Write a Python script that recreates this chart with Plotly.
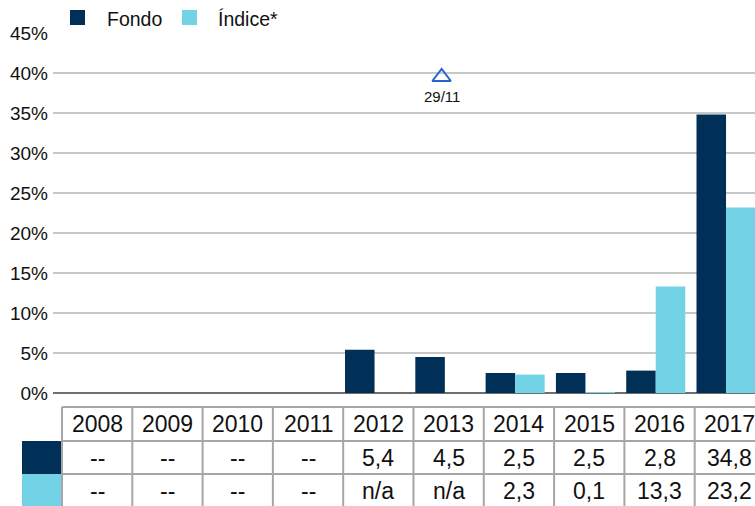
import plotly.graph_objects as go

# ---------------- data ----------------
years = ["2008", "2009", "2010", "2011", "2012", "2013", "2014", "2015", "2016", "2017"]
fondo = [None, None, None, None, 5.4, 4.5, 2.5, 2.5, 2.8, 34.8]
indice = [None, None, None, None, None, None, 2.3, 0.1, 13.3, 23.2]
fondo_labels = ["--", "--", "--", "--", "5,4", "4,5", "2,5", "2,5", "2,8", "34,8"]
indice_labels = ["--", "--", "--", "--", "n/a", "n/a", "2,3", "0,1", "13,3", "23,2"]
series_names = ["Fondo", "Índice*"]
y_ticks = [0, 5, 10, 15, 20, 25, 30, 35, 40, 45]
y_tick_labels = ["0%", "5%", "10%", "15%", "20%", "25%", "30%", "35%", "40%", "45%"]
event_x = [4.9]
event_y = [39.5]
event_label = ["29/11"]

# ---------------- style ----------------
NAVY = "#003057"
CYAN = "#72d2e6"
FONT = "Liberation Sans, Arial, sans-serif"
W, H = 755, 506
L, T, PW, PH = 53, 33, 702, 360   # plot area in window pixels


def px(x):
    return (x - L) / PW


def py(y):
    return (T + PH - y) / PH


xpos = list(range(len(years)))

fig = go.Figure()
fig.add_trace(go.Bar(x=xpos, y=fondo, name=series_names[0], marker_color=NAVY,
                     width=0.42, offset=-0.474, showlegend=False, marker_line_width=0))
fig.add_trace(go.Bar(x=xpos, y=indice, name=series_names[1], marker_color=CYAN,
                     width=0.42, offset=-0.054, showlegend=False, marker_line_width=0))
fig.add_trace(go.Scatter(x=event_x, y=event_y, mode="markers", showlegend=False,
                         marker=dict(symbol="triangle-up-open", size=16, color="#2a62d4",
                                     line=dict(width=2, color="#2a62d4"))))

shapes = []
annotations = []

# event label
annotations.append(dict(x=event_x[0], y=event_y[0], xref="x", yref="y", text=event_label[0],
                        showarrow=False, yshift=-19, font=dict(size=15, color="#111", family=FONT)))

# legend (manual)
leg = [(70, 105, NAVY, series_names[0]), (182, 216, CYAN, series_names[1])]
for sx, tx, col, name in leg:
    shapes.append(dict(type="rect", xref="paper", yref="paper", x0=px(sx), x1=px(sx + 15),
                       y0=py(25), y1=py(10), fillcolor=col, line=dict(width=0)))
    annotations.append(dict(x=px(tx), y=py(19.5), xref="paper", yref="paper", text=name,
                            xanchor="left", yanchor="middle", showarrow=False,
                            font=dict(size=19.5, color="#111", family=FONT)))

# table
GRID = "#a6a6a6"
row_edges = [407, 441, 474]
for ry in row_edges:
    shapes.append(dict(type="line", xref="x", yref="paper", x0=-0.5, x1=len(years) - 0.5,
                       y0=py(ry), y1=py(ry), line=dict(color=GRID, width=2)))
for i in range(len(years) + 1):
    shapes.append(dict(type="line", xref="x", yref="paper", x0=i - 0.5, x1=i - 0.5,
                       y0=py(407), y1=py(515), line=dict(color=GRID, width=2)))
# swatches
shapes.append(dict(type="rect", xref="paper", yref="paper", x0=px(22), x1=px(62),
                   y0=py(474), y1=py(441), fillcolor=NAVY, line=dict(width=0), layer="below"))
shapes.append(dict(type="rect", xref="paper", yref="paper", x0=px(22), x1=px(62),
                   y0=py(515), y1=py(474), fillcolor=CYAN, line=dict(width=0), layer="below"))

row_centers = [424, 457.5, 490.5]
for i, yr in enumerate(years):
    for rc, txt in zip(row_centers, [yr, fondo_labels[i], indice_labels[i]]):
        annotations.append(dict(x=xpos[i], y=py(rc), xref="x", yref="paper", text=txt,
                                showarrow=False, xanchor="center", yanchor="middle",
                                font=dict(size=23, color="#111", family=FONT)))

fig.update_layout(
    width=W, height=H,
    margin=dict(l=L, r=W - L - PW, t=T, b=H - T - PH, pad=0),
    paper_bgcolor="white", plot_bgcolor="white",
    barmode="overlay",
    font=dict(family=FONT, color="#111"),
    xaxis=dict(range=[-0.628, 9.358], showgrid=False, showticklabels=False,
               zeroline=False, showline=False, ticks=""),
    yaxis=dict(range=[0, 45], tickvals=y_ticks, ticktext=y_tick_labels,
               showgrid=True, gridcolor="#c8c8c8", gridwidth=2,
               zeroline=True, zerolinecolor="#6e6e6e", zerolinewidth=2,
               showline=False, ticks="", ticklabelstandoff=4,
               tickfont=dict(size=19, color="#111", family=FONT)),
    shapes=shapes,
    annotations=annotations,
)

fig.write_html("out.html",
               config={"displayModeBar": False},
               post_script="document.body.style.margin='0';document.body.style.overflow='hidden';")
